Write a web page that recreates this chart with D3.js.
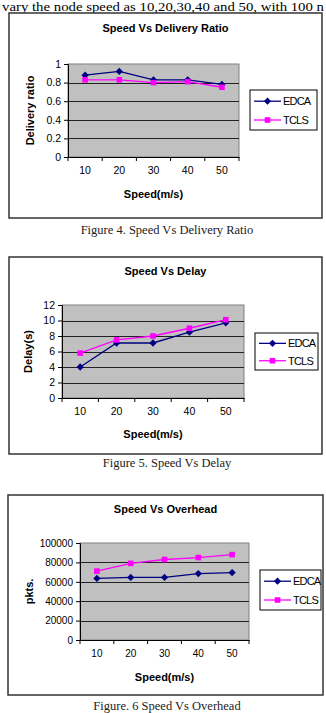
<!DOCTYPE html>
<html>
<head>
<meta charset="utf-8">
<script src="https://cdn.jsdelivr.net/npm/d3@7"></script>
<style>
  body { margin: 0; background: #fff; }
  svg { display: block; }
</style>
</head>
<body>
<script>
let width = 326;
let height = 713;

// data
let speeds = ["10", "20", "30", "40", "50"];
let seriesNames = ["EDCA", "TCLS"];

let deliveryEDCA = [0.88, 0.92, 0.83, 0.83, 0.78];
let deliveryTCLS = [0.83, 0.83, 0.80, 0.81, 0.75];
let deliveryTicks = [0, 0.2, 0.4, 0.6, 0.8, 1];

let delayEDCA = [4.0, 7.1, 7.1, 8.5, 9.7];
let delayTCLS = [5.8, 7.5, 8.0, 9.0, 10.1];
let delayTicks = [0, 2, 4, 6, 8, 10, 12];

let overheadEDCA = [63500, 64500, 64500, 68500, 69500];
let overheadTCLS = [71000, 79000, 83000, 85000, 88000];
let overheadTicks = [0, 20000, 40000, 60000, 80000, 100000];

let colors = { EDCA: "#000080", TCLS: "#ff00ff" };

let svg = d3.select("body").append("svg")
    .attr("width", width)
    .attr("height", height);

// running paper text above the first figure
svg.append("text")
    .attr("x", 2)
    .attr("y", 10.8)
    .attr("textLength", 322)
    .attr("lengthAdjust", "spacingAndGlyphs")
    .style("font-family", "'Liberation Serif', serif")
    .style("font-size", "11.5px")
    .text("vary the node speed as 10,20,30,40 and 50, with 100 n");

let charts = [
    {
        title: "Speed Vs Delivery Ratio", yTitle: "Delivery ratio",
        caption: "Figure 4. Speed Vs Delivery Ratio",
        series: [deliveryEDCA, deliveryTCLS], ticks: deliveryTicks, fmt: d3.format(""),
        frame: [9, 13, 313, 205], plot: [68, 64, 171, 93],
        titleY: 32, xTitleY: 198, yTitleX: 34, legend: [250, 90, 67, 40],
        captionY: 234, fontSize: 10.5
    },
    {
        title: "Speed Vs Delay", yTitle: "Delay(s)",
        caption: "Figure 5. Speed Vs Delay",
        series: [delayEDCA, delayTCLS], ticks: delayTicks, fmt: d3.format(""),
        frame: [9, 257, 313, 197], plot: [62, 305, 182, 93],
        titleY: 275, xTitleY: 438, yTitleX: 32, legend: [255, 333, 63, 37],
        captionY: 467, fontSize: 10.5
    },
    {
        title: "Speed Vs Overhead", yTitle: "pkts.",
        caption: "Figure. 6 Speed Vs Overhead",
        series: [overheadEDCA, overheadTCLS], ticks: overheadTicks, fmt: d3.format("d"),
        frame: [8, 495, 315, 200], plot: [80, 543, 169, 97],
        titleY: 513, xTitleY: 681, yTitleX: 33, legend: [260, 570, 61, 40],
        captionY: 710, fontSize: 10
    }
];

charts.forEach(c => {
    let g = svg.append("g");
    let [fx, fy, fw, fh] = c.frame;
    let [px, py, pw, ph] = c.plot;

    g.append("rect")
        .attr("x", fx).attr("y", fy)
        .attr("width", fw).attr("height", fh)
        .style("fill", "white")
        .style("stroke", "#333")
        .style("stroke-width", 1.5);

    g.append("text")
        .attr("x", fx + fw / 2).attr("y", c.titleY)
        .attr("text-anchor", "middle")
        .style("font-family", "'Liberation Sans', Arial, sans-serif")
        .style("font-weight", "bold")
        .style("font-size", "11px")
        .text(c.title);

    let x = d3.scaleBand().domain(speeds).range([px, px + pw]);
    let y = d3.scaleLinear()
        .domain([0, c.ticks[c.ticks.length - 1]])
        .range([py + ph, py]);

    // plot area
    g.append("rect")
        .attr("x", px).attr("y", py)
        .attr("width", pw).attr("height", ph)
        .style("fill", "#c0c0c0")
        .style("stroke", "#808080")
        .style("stroke-width", 1);

    // gridlines
    g.selectAll("line.grid")
        .data(c.ticks.slice(1, -1))
        .enter()
        .append("line")
        .attr("x1", px).attr("x2", px + pw)
        .attr("y1", d => Math.round(y(d)) + 0.5)
        .attr("y2", d => Math.round(y(d)) + 0.5)
        .style("stroke", "#222")
        .style("stroke-width", 1);

    // y axis
    let ya = g.append("g")
        .attr("transform", `translate(${px},0)`)
        .call(d3.axisLeft(y).tickValues(c.ticks).tickFormat(c.fmt).tickSize(4).tickPadding(3));
    ya.select(".domain").style("stroke", "#000");
    ya.selectAll("line").style("stroke", "#000");
    ya.selectAll("text")
        .style("font-family", "'Liberation Sans', Arial, sans-serif")
        .style("font-size", c.fontSize + "px")
        .style("fill", "#000");

    // x axis: labels centred in bands, ticks at band edges
    let xa = g.append("g")
        .attr("transform", `translate(0,${py + ph})`)
        .call(d3.axisBottom(x).tickSize(0).tickPadding(10));
    xa.select(".domain").style("stroke", "#000");
    xa.selectAll("text")
        .style("font-family", "'Liberation Sans', Arial, sans-serif")
        .style("font-size", c.fontSize + "px")
        .style("fill", "#000");
    xa.selectAll("line.edge")
        .data(d3.range(speeds.length + 1))
        .enter()
        .append("line")
        .attr("class", "edge")
        .attr("x1", i => px + i * x.step())
        .attr("x2", i => px + i * x.step())
        .attr("y1", 0).attr("y2", 4)
        .style("stroke", "#000");

    g.append("text")
        .attr("x", px + pw / 2).attr("y", c.xTitleY)
        .attr("text-anchor", "middle")
        .style("font-family", "'Liberation Sans', Arial, sans-serif")
        .style("font-weight", "bold")
        .style("font-size", "11px")
        .text("Speed(m/s)");

    g.append("text")
        .attr("transform", `translate(${c.yTitleX},${py + ph / 2}) rotate(-90)`)
        .attr("text-anchor", "middle")
        .style("font-family", "'Liberation Sans', Arial, sans-serif")
        .style("font-weight", "bold")
        .style("font-size", "11px")
        .text(c.yTitle);

    // series
    let line = d3.line()
        .x((d, i) => x(speeds[i]) + x.bandwidth() / 2)
        .y(d => y(d));

    seriesNames.forEach((name, si) => {
        let vals = c.series[si];
        g.append("path")
            .datum(vals)
            .attr("d", line)
            .style("fill", "none")
            .style("stroke", colors[name])
            .style("stroke-width", 1.3);

        let sym = d3.symbol()
            .type(name === "EDCA" ? d3.symbolDiamond2 : d3.symbolSquare2)
            .size(name === "EDCA" ? 34 : 40);

        g.selectAll("path.m" + si)
            .data(vals)
            .enter()
            .append("path")
            .attr("class", "m" + si)
            .attr("transform", (d, i) => `translate(${x(speeds[i]) + x.bandwidth() / 2},${y(d)})`)
            .attr("d", sym)
            .style("fill", colors[name])
            .style("stroke", "none");
    });

    // legend
    let [lx, ly, lw, lh] = c.legend;
    let lg = g.append("g");
    lg.append("rect")
        .attr("x", lx).attr("y", ly)
        .attr("width", lw).attr("height", lh)
        .style("fill", "white")
        .style("stroke", "#000")
        .style("stroke-width", 1);

    seriesNames.forEach((name, si) => {
        let ry = ly + lh * (si === 0 ? 0.28 : 0.75);
        lg.append("line")
            .attr("x1", lx + 4).attr("x2", lx + 31)
            .attr("y1", ry).attr("y2", ry)
            .style("stroke", colors[name])
            .style("stroke-width", 1.3);
        lg.append("path")
            .attr("transform", `translate(${lx + 17.5},${ry})`)
            .attr("d", d3.symbol()
                .type(name === "EDCA" ? d3.symbolDiamond2 : d3.symbolSquare2)
                .size(name === "EDCA" ? 34 : 40))
            .style("fill", colors[name]);
        lg.append("text")
            .attr("x", lx + 33).attr("y", ry)
            .attr("dy", "0.35em")
            .style("font-family", "'Liberation Sans', Arial, sans-serif")
            .style("font-size", "11px")
            .style("letter-spacing", "-0.8px")
            .text(name);
    });

    // figure caption
    svg.append("text")
        .attr("x", width / 2 + 4).attr("y", c.captionY)
        .attr("text-anchor", "middle")
        .style("font-family", "'Liberation Serif', serif")
        .style("font-size", "12.5px")
        .style("fill", "#222")
        .text(c.caption);
});
</script>
</body>
</html>
